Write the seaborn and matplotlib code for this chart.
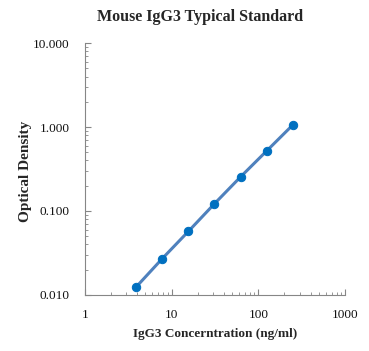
import matplotlib
matplotlib.use("Agg")
import matplotlib.pyplot as plt
import matplotlib.ticker as mticker
import seaborn as sns
import pandas as pd

concentration = [3.9, 7.8, 15.6, 31.25, 62.5, 125, 250]
optical_density = [0.0124, 0.027, 0.057, 0.122, 0.255, 0.52, 1.06]
x_ticks = [1, 10, 100, 1000]
y_ticks = [0.01, 0.1, 1, 10]

df = pd.DataFrame({"conc": concentration, "od": optical_density})

sns.set_style("white")
plt.rcParams['font.family'] = ['Liberation Serif', 'DejaVu Serif']

fig = plt.figure(figsize=(3.69, 3.51), dpi=100)
ax = fig.add_axes([0.230, 0.160, 0.705, 0.717])

sns.lineplot(data=df, x="conc", y="od", ax=ax, color="#4F81BD", linewidth=2.2,
             marker="o", markersize=6, markerfacecolor="#0070C0",
             markeredgecolor="#0070C0")

ax.set_xscale("log")
ax.set_yscale("log")
ax.set_xlim(1, 1000)
ax.set_ylim(0.01, 10)
ax.xaxis.set_major_locator(mticker.FixedLocator(x_ticks))
ax.yaxis.set_major_locator(mticker.FixedLocator(y_ticks))
ax.xaxis.set_major_formatter(mticker.FuncFormatter(lambda v, p: f"{v:g}"))
ax.yaxis.set_major_formatter(mticker.FuncFormatter(lambda v, p: f"{v:.3f}"))
ax.xaxis.set_minor_locator(mticker.LogLocator(base=10, subs=range(2, 10)))
ax.yaxis.set_minor_locator(mticker.LogLocator(base=10, subs=range(2, 10)))
ax.xaxis.set_minor_formatter(mticker.NullFormatter())
ax.yaxis.set_minor_formatter(mticker.NullFormatter())

for s in ["top", "right"]:
    ax.spines[s].set_visible(False)
for s in ["left", "bottom"]:
    ax.spines[s].set_color("#868686")
    ax.spines[s].set_linewidth(0.8)

ax.tick_params(which="major", direction="in", length=4, color="#868686",
               labelsize=9.5, left=True, bottom=True, labelcolor="#111111")
ax.tick_params(which="minor", direction="in", length=2.5, color="#868686",
               left=True, bottom=True)
ax.tick_params(axis="y", which="major", pad=11)
ax.tick_params(axis="x", which="major", pad=10)

ax.set_xlabel("IgG3 Concerntration (ng/ml)", fontsize=9.5, fontweight="bold", labelpad=5)
ax.set_ylabel("Optical Density", fontsize=11, fontweight="bold", labelpad=8)
ax.yaxis.set_label_coords(-0.205, 0.49)
fig.text(200 / 369, 1 - 17 / 351, "Mouse IgG3 Typical Standard", fontsize=11.5,
         fontweight="bold", ha="center", va="center")

fig.savefig("out.png", dpi=100)
